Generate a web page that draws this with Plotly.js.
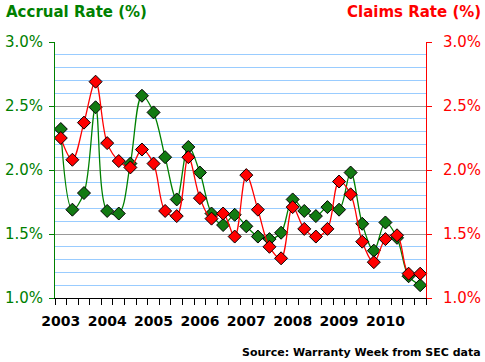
<!DOCTYPE html>
<html>
<head>
<meta charset="utf-8">
<script src="https://cdn.plot.ly/plotly-3.0.1.min.js"></script>
<style>html,body{margin:0;padding:0;background:#fff;}#chart{width:485px;height:362px;}</style>
</head>
<body>
<div id="chart"></div>
<script>
const years = ["2003","2004","2005","2006","2007","2008","2009","2010"];
const quarters = ["Q1","Q2","Q3","Q4"];
const accrualRate = [
  2.32, 1.69, 1.82, 2.49,
  1.68, 1.66, 2.05, 2.58,
  2.45, 2.10, 1.77, 2.18,
  1.98, 1.66, 1.57, 1.65,
  1.56, 1.48, 1.46, 1.51,
  1.77, 1.68, 1.64, 1.71,
  1.69, 1.98, 1.58, 1.37,
  1.59, 1.47, 1.17, 1.10
];
const claimsRate = [
  2.25, 2.08, 2.37, 2.69,
  2.21, 2.07, 2.02, 2.16,
  2.05, 1.68, 1.64, 2.10,
  1.78, 1.62, 1.66, 1.48,
  1.96, 1.69, 1.40, 1.31,
  1.71, 1.54, 1.48, 1.54,
  1.91, 1.81, 1.44, 1.28,
  1.46, 1.49, 1.19, 1.19
];
const yTicks = [1.0, 1.5, 2.0, 2.5, 3.0];
const yTickText = ["1.0%", "1.5%", "2.0%", "2.5%", "3.0%"];

const categories = [];
const tickText = [];
years.forEach(y => quarters.forEach((q, qi) => {
  categories.push(y + " " + q);
  tickText.push(qi === 0 ? y : "");
}));

const GREEN = "#008000";
const RED = "#ff0000";
const FONT = "DejaVu Sans, Arial, sans-serif";

const accrualTrace = {
  x: categories, y: accrualRate, type: "scatter", mode: "lines+markers",
  line: {color: GREEN, width: 1.3, shape: "spline"},
  marker: {symbol: "diamond", size: 10, color: "#127a12", line: {color: "#000", width: 1}},
  xaxis: "x", yaxis: "y", cliponaxis: false
};
const claimsTrace = {
  x: categories, y: claimsRate, type: "scatter", mode: "lines+markers",
  line: {color: RED, width: 1.3, shape: "spline"},
  marker: {symbol: "diamond", size: 10, color: RED, line: {color: "#000", width: 1}},
  xaxis: "x", yaxis: "y2", cliponaxis: false
};
const data = [claimsTrace, accrualTrace];

const layout = {
  width: 485, height: 362,
  margin: {l: 55, r: 59, t: 42, b: 64},
  paper_bgcolor: "#fff", plot_bgcolor: "#fff",
  showlegend: false,
  font: {family: FONT},
  xaxis: {
    type: "category", categoryorder: "array", categoryarray: categories,
    tickmode: "array", tickvals: categories, ticktext: tickText,
    tickson: "boundaries", ticks: "outside", ticklen: 6, tickcolor: "#000", tickwidth: 1,
    showgrid: false, showline: true, linecolor: "#000", linewidth: 1,
    tickfont: {family: FONT, size: 14, color: "#000", weight: "bold"},
    ticklabelstandoff: 10,
    tickangle: 0, zeroline: false, range: [-0.5, 31.5]
  },
  yaxis: {
    range: [1.0, 3.0], tickmode: "array", tickvals: yTicks, ticktext: yTickText,
    ticks: "outside", ticklen: 5, tickcolor: GREEN,
    showline: true, linecolor: GREEN, linewidth: 1,
    showgrid: true, gridcolor: "#999999", gridwidth: 1,
    minor: {dtick: 0.1, tick0: 1.0, showgrid: true, gridcolor: "#99ccff", gridwidth: 1, ticks: ""},
    tickfont: {family: FONT, size: 15, color: GREEN},
    ticklabelstandoff: 3,
    zeroline: false
  },
  yaxis2: {
    overlaying: "y", side: "right",
    range: [1.0, 3.0], tickmode: "array", tickvals: yTicks, ticktext: yTickText,
    ticks: "outside", ticklen: 5, tickcolor: RED,
    showline: true, linecolor: RED, linewidth: 1,
    showgrid: false, zeroline: false,
    tickfont: {family: FONT, size: 15, color: RED},
    ticklabelstandoff: 8
  },
  annotations: [
    {text: "Accrual Rate (%)", xref: "paper", yref: "paper", x: -51/371, y: 1 + 30/256,
     xanchor: "left", yanchor: "middle", showarrow: false,
     font: {family: FONT, size: 15, color: GREEN, weight: "bold"}},
    {text: "Claims Rate (%)", xref: "paper", yref: "paper", x: 1 + 57/371, y: 1 + 30/256,
     xanchor: "right", yanchor: "middle", showarrow: false,
     font: {family: FONT, size: 15, color: RED, weight: "bold"}},
    {text: "Source: Warranty Week from SEC data", xref: "paper", yref: "paper",
     x: 1 + 57/371, y: -54/256, xanchor: "right", yanchor: "middle", showarrow: false,
     font: {family: FONT, size: 11, color: "#000", weight: "bold"}}
  ]
};

Plotly.newPlot("chart", data, layout, {staticPlot: true, displayModeBar: false});
</script>
</body>
</html>
